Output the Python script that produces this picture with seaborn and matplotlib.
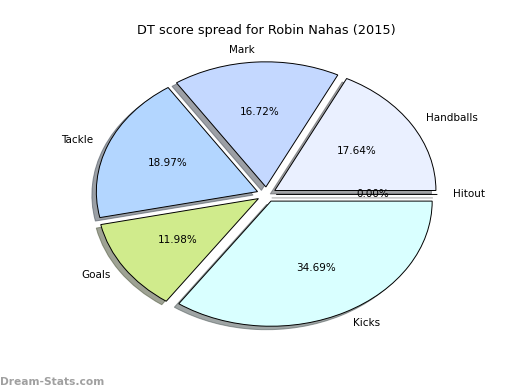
import matplotlib
matplotlib.use("Agg")
import matplotlib.pyplot as plt
import seaborn as sns

sns.set_style("white")
plt.rcParams['font.family'] = ['DejaVu Sans']
plt.rcParams['text.color'] = 'black'

labels = ["Handballs", "Mark", "Tackle", "Goals", "Kicks", "Hitout"]
values = [17.64, 16.72, 18.97, 11.98, 34.69, 0.0]
colors = ["#eaf0ff", "#c4d8ff", "#b3d6ff", "#d0eb8c", "#d9ffff", "#e8e8e8"]
explode = [0.06] * len(values)

fig = plt.figure(figsize=(5.2, 3.9), dpi=100)
ax = fig.add_subplot(111)
wedges, texts, autotexts = ax.pie(
    values, labels=labels, colors=colors, explode=explode,
    autopct="%1.2f%%", shadow=True, startangle=0,
    wedgeprops=dict(edgecolor="black", linewidth=0.7),
    textprops=dict(fontsize=7.5, color="black"),
)
ax.set_aspect("auto")
ax.set_xlim(-1.25, 1.25)
ax.set_ylim(-1.22, 1.18)
ax.set_title("DT score spread for Robin Nahas (2015)", fontsize=9.3,
             color="black", pad=9)
fig.text(0.0, 0.008, "Dream-Stats.com", color="#a0a0a0", fontsize=7.7,
         fontweight="bold", ha="left", va="bottom")
fig.savefig("out.png", dpi=100)
